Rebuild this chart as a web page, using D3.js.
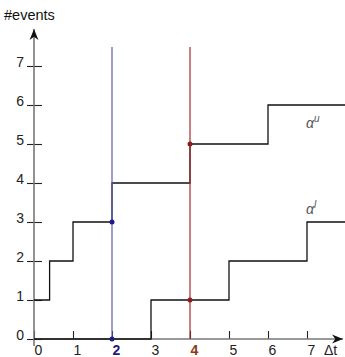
<!DOCTYPE html>
<html>
<head>
<meta charset="utf-8">
<script src="https://cdn.jsdelivr.net/npm/d3@7"></script>
<style>
  body { margin: 0; background: #fff; }
  text { font-family: "Liberation Sans", Arial, sans-serif; }
</style>
</head>
<body>
<svg id="chart" width="345" height="357"></svg>
<script>
// step curves: [Δt, #events]
const upperSteps = [[0, 1], [0.4, 2], [1, 3], [2, 4], [4, 5], [6, 6], [8, 6]];
const lowerSteps = [[0, 0], [3, 1], [5, 2], [7, 3], [8, 3]];
const xTicks = [0, 1, 2, 3, 4, 5, 6, 7];
const yTicks = [0, 1, 2, 3, 4, 5, 6, 7];
const markers = [
  { t: 2, color: '#5a5ac0', dot: '#1c1c8c', label: '#1c1c7a', points: [3, 0] },
  { t: 4, color: '#a52a2a', dot: '#8b1e1e', label: '#8b3a0e', points: [5, 1] }
];

const svg = d3.select('#chart');
const x = d3.scaleLinear().domain([0, 8]).range([34, 346]);
const y = d3.scaleLinear().domain([0, 8]).range([339, 27]);

svg.append('defs').append('marker')
    .attr('id', 'arrow')
    .attr('viewBox', '0 0 10 10')
    .attr('refX', 10).attr('refY', 5)
    .attr('markerWidth', 11).attr('markerHeight', 11)
    .attr('markerUnits', 'userSpaceOnUse')
    .attr('orient', 'auto')
  .append('path')
    .attr('d', 'M0,1 L10,5 L0,9 L3,5 Z')
    .attr('fill', '#111');

// axes
const xAxis = svg.append('g')
    .attr('transform', `translate(0,${y(0)})`)
    .call(d3.axisBottom(x).tickValues(xTicks).tickSize(-8).tickPadding(6));
xAxis.select('.domain').remove();
xAxis.selectAll('line').attr('stroke', '#222').attr('stroke-width', 1.1);
xAxis.selectAll('text')
    .attr('font-size', 14).attr('dx', 4).attr('dy', '0.71em')
    .attr('fill', d => { const m = markers.find(m => m.t === d); return m ? m.label : '#222'; })
    .attr('font-weight', d => markers.some(m => m.t === d) ? 'bold' : 'normal');

const yAxis = svg.append('g')
    .attr('transform', `translate(${x(0)},0)`)
    .call(d3.axisLeft(y).tickValues(yTicks).tickSize(7).tickPadding(4));
yAxis.select('.domain').remove();
yAxis.selectAll('line').attr('x2', 8).attr('x1', -7).attr('stroke', '#222').attr('stroke-width', 1.1);
yAxis.selectAll('text').attr('font-size', 14).attr('dy', '0.05em').attr('x', -10).attr('fill', '#222');

svg.append('line')
    .attr('x1', x(0)).attr('x2', 343)
    .attr('y1', y(0)).attr('y2', y(0))
    .attr('stroke', '#777').attr('stroke-width', 1.6)
    .attr('marker-end', 'url(#arrow)');
svg.append('line')
    .attr('x1', x(0)).attr('x2', x(0))
    .attr('y1', 346).attr('y2', 29)
    .attr('stroke', '#777').attr('stroke-width', 1.6)
    .attr('marker-end', 'url(#arrow)');

svg.append('text').attr('x', 4).attr('y', 20).attr('font-size', 14.5).attr('fill', '#111').text('#events');
svg.append('text').attr('x', 324).attr('y', 355).attr('font-size', 14).attr('fill', '#222').text('Δt');

// step curves
const line = d3.line().x(d => x(d[0])).y(d => y(d[1])).curve(d3.curveStepAfter);
[upperSteps, lowerSteps].forEach(s => {
  svg.append('path').datum(s)
      .attr('d', line)
      .attr('fill', 'none')
      .attr('stroke', '#111')
      .attr('stroke-width', 1.3);
});

// vertical markers
markers.forEach(m => {
  svg.append('line')
      .attr('x1', x(m.t)).attr('x2', x(m.t))
      .attr('y1', 47).attr('y2', y(0))
      .attr('stroke', m.color).attr('stroke-width', 1.2);
  svg.selectAll(null).data(m.points).join('circle')
      .attr('cx', x(m.t)).attr('cy', d => y(d))
      .attr('r', 2.5).attr('fill', m.dot);
});

// curve labels
const labels = [{ t: 7, v: 5.42, sup: 'u' }, { t: 7, v: 3.2, sup: 'l' }];
labels.forEach(l => {
  const tx = svg.append('text')
      .attr('x', x(l.t) - 1).attr('y', y(l.v))
      .attr('font-family', '"DejaVu Serif", serif').attr('font-style', 'italic')
      .attr('font-size', 14).attr('fill', '#555');
  tx.append('tspan').text('α');
  tx.append('tspan').attr('dy', -6).attr('font-size', 10).text(l.sup);
});
</script>
</body>
</html>
